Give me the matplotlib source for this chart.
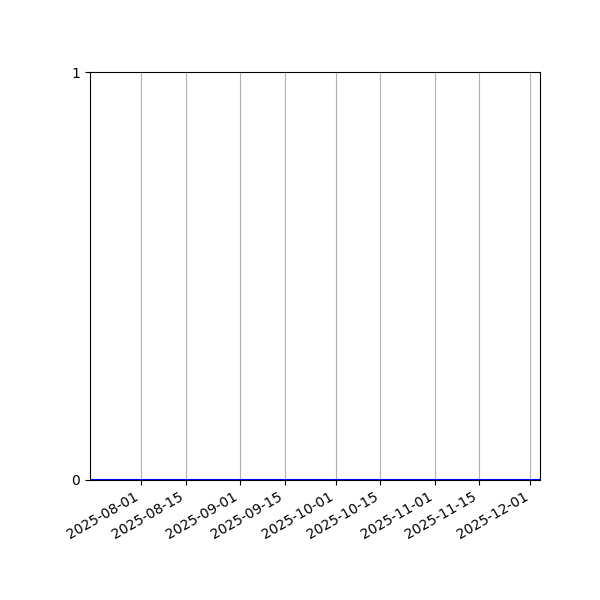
import matplotlib
matplotlib.use("Agg")
import matplotlib.pyplot as plt
import matplotlib.dates as mdates
import pandas as pd

dates = ["2025-07-16", "2025-12-04"]
counts = [0, 0]


def main():
    x = pd.to_datetime(dates)
    fig, ax = plt.subplots(figsize=(6, 6), dpi=100)
    ax.plot(x, counts, color="b", linewidth=1.5)
    ax.set_xlim(x[0], x[-1])
    ax.set_ylim(0, 1)
    ax.set_yticks([0, 1])
    ax.xaxis.set_major_locator(mdates.DayLocator(bymonthday=[1, 15]))
    ax.xaxis.set_major_formatter(mdates.DateFormatter("%Y-%m-%d"))
    ax.grid(True, axis="x", color="#b0b0b0", linewidth=0.8)
    fig.autofmt_xdate()
    fig.subplots_adjust(left=0.15, right=0.9, top=0.88, bottom=0.2)
    fig.savefig("out.png")


if __name__ == "__main__":
    main()
